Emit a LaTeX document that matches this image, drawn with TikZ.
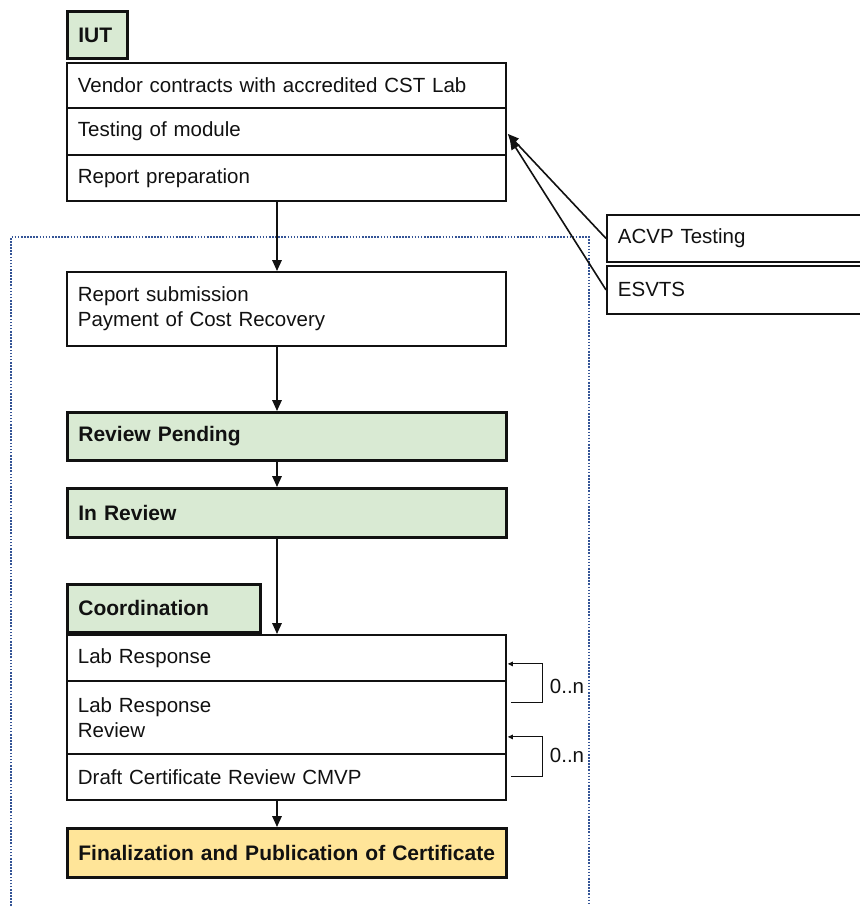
\documentclass[tikz,border=0pt]{standalone}
\usepackage{fontspec}
\setmainfont{Liberation Sans}
\usetikzlibrary{arrows.meta,calc}
\definecolor{boxgreen}{HTML}{D9EAD3}
\definecolor{boxyellow}{HTML}{FFE599}
\definecolor{dotblue}{RGB}{52,84,150}
\definecolor{ink}{HTML}{111111}
\begin{document}
\begin{tikzpicture}[x=1pt,y=-1pt,
  every node/.style={font=\fontsize{20.5pt}{25pt}\selectfont, text=ink},
  cell/.style={draw=ink, line width=1.8pt, anchor=north west, inner xsep=11pt, inner ysep=0pt,
    text width=417pt, align=left, minimum height=#1},
  cell/.default=46pt,
  stage/.style={cell=#1, line width=2.8pt, fill=boxgreen, font=\fontsize{21pt}{25pt}\selectfont\bfseries},
  stage/.default=48pt,
  sidebox/.style={draw=ink, line width=1.8pt, anchor=north west, inner xsep=11pt, inner ysep=0pt,
    text width=238pt, align=left, minimum height=#1},
  arr/.style={draw=ink, line width=1.6pt, -{Triangle[length=11pt,width=9.5pt]}},
  looparr/.style={draw=ink, line width=1.1pt, -{Triangle[length=5pt,width=4.5pt]}},
  dotline/.style={draw=dotblue, line width=1.9pt, dash pattern=on 1.6pt off 1.5pt}
]
\useasboundingbox (0,0) rectangle (860,906);

% dotted frame
\draw[dotline] (11,906) -- (11,237) -- (589,237) -- (589,906);

% IUT block
\node[stage=47pt, text width=38pt] (iut) at (66,10) {IUT};
\node[cell=45pt] (vend) at (66,62) {Vendor contracts with accredited CST Lab};
\node[cell=47pt] (test) at (66,107) {Testing of module};
\node[cell=46pt] (prep) at (66,154) {Report preparation};

% side boxes
\node[sidebox=47pt] (acvp) at (606,214) {ACVP Testing};
\node[sidebox=48pt] (esv) at (606,265) {ESVTS};

% main flow
\node[cell=74pt] (sub) at (66,271) {Report submission\\Payment of Cost Recovery};
\node[stage=48pt] (rp) at (66,411) {Review Pending};
\node[stage=49pt] (ir) at (66,487) {In Review};
\node[stage=48pt, text width=171pt] (coord) at (66,583) {Coordination};
\node[cell=46pt] (lr) at (66,634) {Lab Response};
\node[cell=73pt] (lrr) at (66,680) {Lab Response\\Review};
\node[cell=46pt] (dcr) at (66,753) {Draft Certificate Review CMVP};
\node[stage=49pt, fill=boxyellow] (fin) at (66,827) {Finalization and Publication of Certificate};

% loop labels
\node (n1) at (567,686) {0..n};
\node (n2) at (567,755) {0..n};

% vertical arrow axis
\coordinate (ax) at (277,0);

\draw[arr] (prep.south -| ax) -- (sub.north -| ax);
\draw[arr] (sub.south -| ax) -- (rp.north -| ax);
\draw[arr] (rp.south -| ax) -- (ir.north -| ax);
\draw[arr] (ir.south -| ax) -- (lr.north -| ax);
\draw[arr] (dcr.south -| ax) -- (fin.north -| ax);

% side arrows
\draw[arr] (acvp.west) -- ([xshift=1pt,yshift=-2.5pt]test.east);
\draw[arr] (esv.west) -- ([xshift=3pt,yshift=-7pt]test.east);

% loops
\draw[looparr] ([xshift=4pt,yshift=14.5pt]lrr.east) -- ++(32,0) |- ([xshift=1pt,yshift=-6pt]lr.east);
\draw[looparr] ([xshift=4pt]dcr.east) -- ++(32,0) |- ([xshift=1pt,yshift=-19.5pt]lrr.east);
\end{tikzpicture}
\end{document}
